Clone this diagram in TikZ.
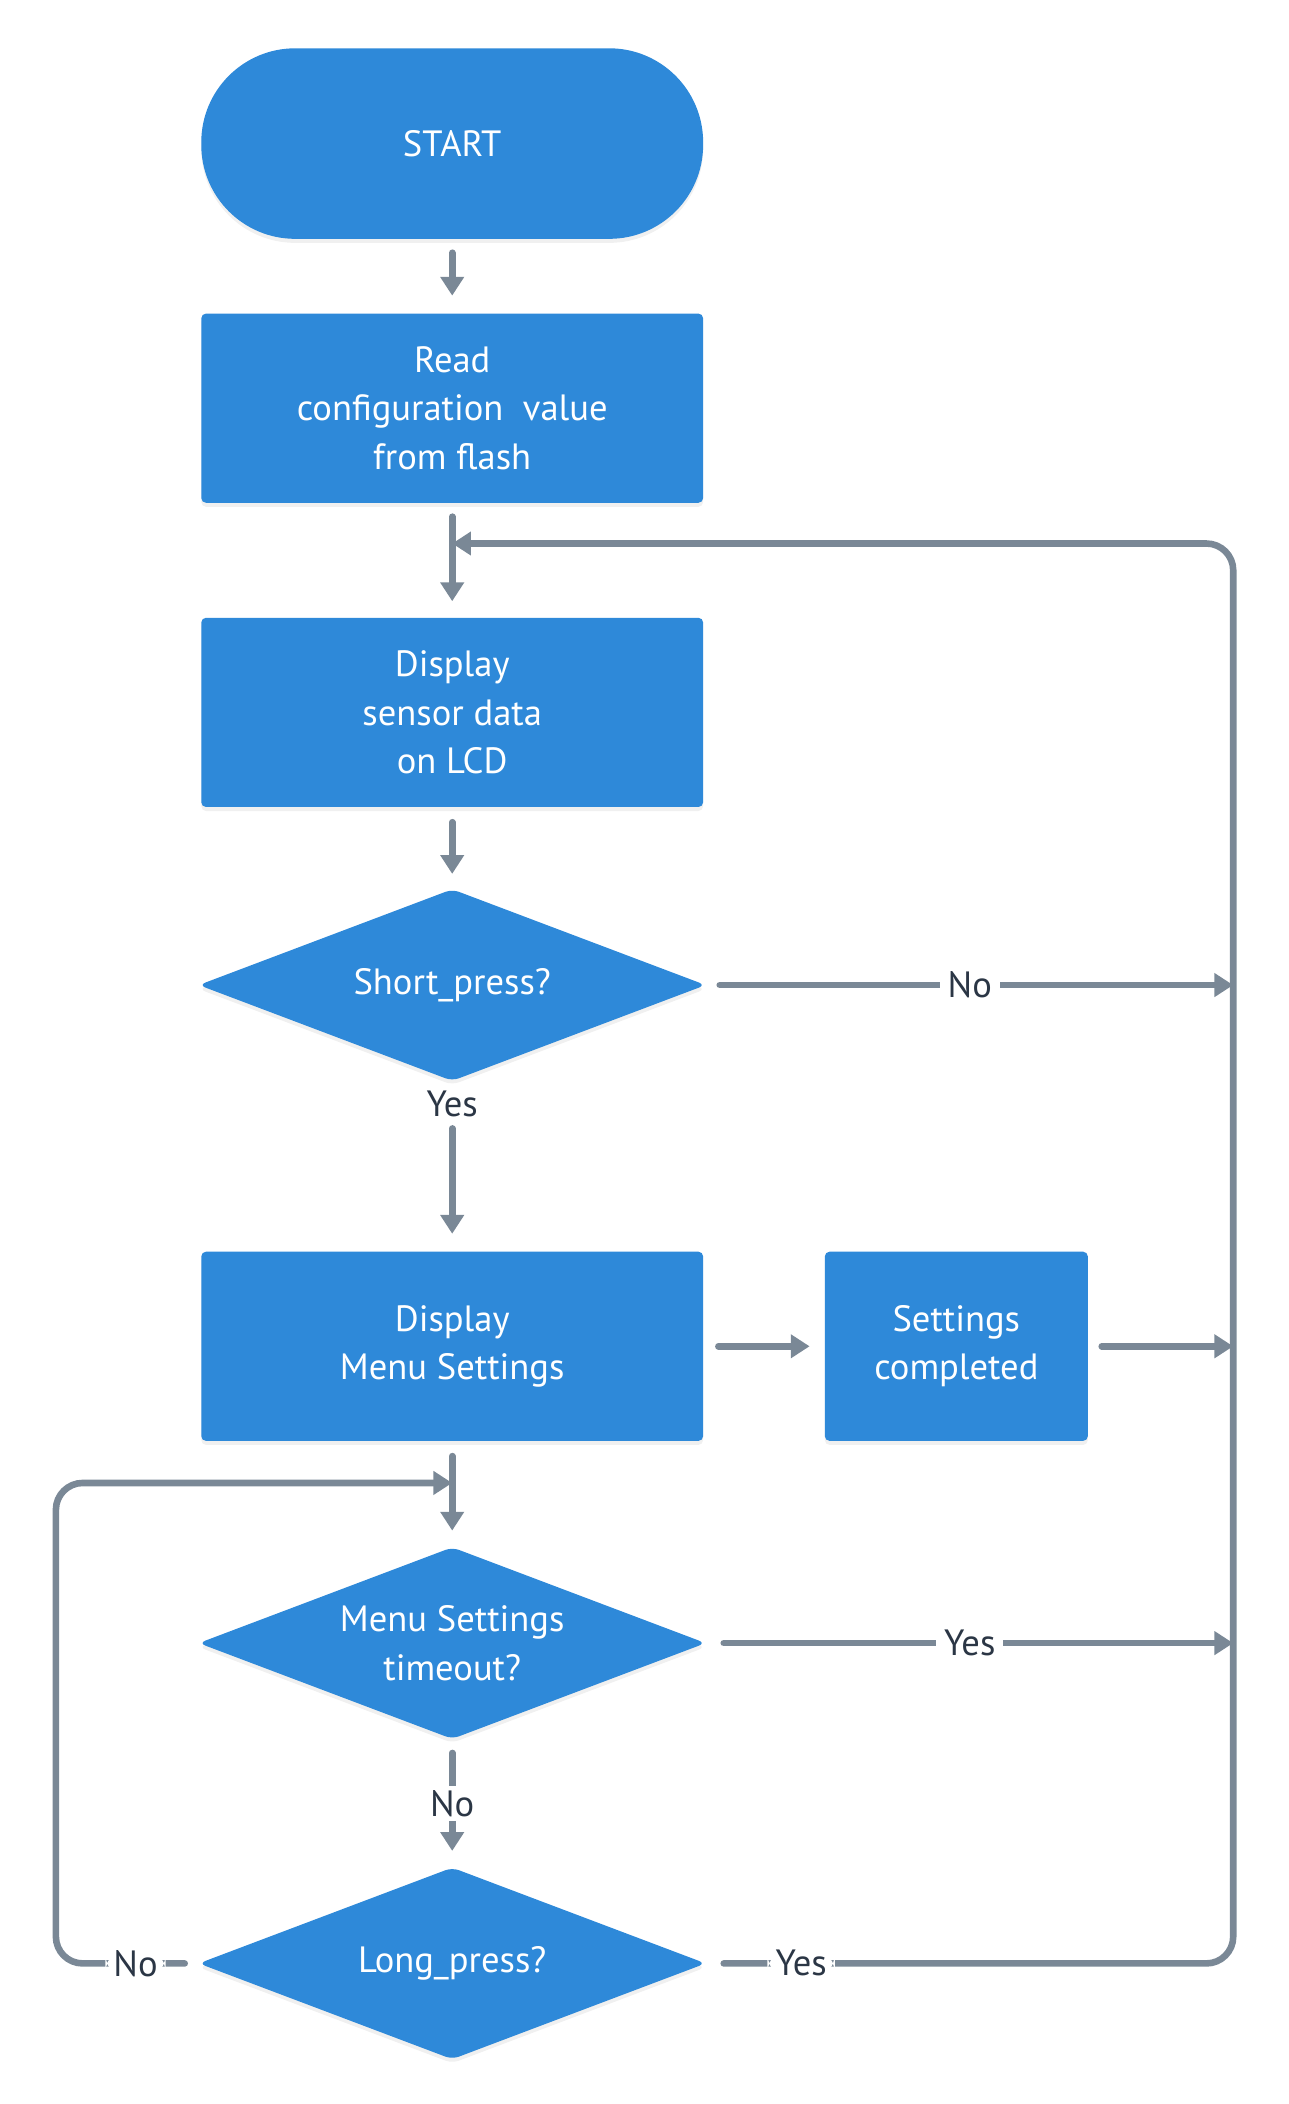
\documentclass[tikz,border=0pt]{standalone}
\usepackage{fontspec}
\setmainfont{PT Sans}
\usepackage{xcolor}
\usetikzlibrary{positioning, shapes.geometric, arrows.meta, shadows}
\definecolor{flowblue}{HTML}{2E89D9}
\definecolor{linegray}{HTML}{7A8896}
\definecolor{labeltext}{HTML}{2B3645}

\begin{document}
\begin{tikzpicture}[
        font=\fontsize{15.5}{20.5}\selectfont,
        box/.style={fill=flowblue, text=white, rounded corners=2pt, minimum width=7.48cm, minimum height=2.82cm, align=center, drop shadow={opacity=0.12, shadow xshift=0pt, shadow yshift=-0.06cm}},
        term/.style={box, rounded corners=1.4cm, minimum height=2.84cm},
        decision/.style={diamond, aspect=2.64, fill=flowblue, text=white, rounded corners=3pt, minimum width=7.56cm, minimum height=2.86cm, inner sep=0pt, align=center, drop shadow={opacity=0.12, shadow xshift=0pt, shadow yshift=-0.06cm}},
        arrow/.style={-{Triangle[width=0.34cm, length=0.28cm]}, draw=linegray, line width=2.8pt, line cap=round},
        lbl/.style={fill=white, text=labeltext, inner xsep=0.12cm, inner ysep=0.06cm}
    ]
        \useasboundingbox (0,0) rectangle (19.2,-31.36);

        % Nodes
        \node[term] (start) at (6.74,-2.14) {START};
        \node[box, below=1.1cm of start] (read) {Read\\configuration\ \ value\\from flash};
        \node[box, below=1.7cm of read] (display) {Display\\sensor data\\on LCD};
        \node[decision, below=1.21cm of display] (short) {Short\_press?};
        \node[box, below=2.53cm of short] (menu) {Display\\Menu Settings};
        \node[box, minimum width=3.92cm, right=1.8cm of menu] (done) {Settings\\completed};
        \node[decision, below=1.57cm of menu] (timeout) {Menu Settings\\timeout?};
        \node[decision, below=1.9cm of timeout] (long) {Long\_press?};

        % Junctions and rails
        \coordinate[below=0.6cm of read] (jtop);
        \coordinate[below=0.62cm of menu] (jbot);
        \coordinate[right=2.16cm of done] (rail);
        \coordinate[left=2.12cm of long] (lrail);

        % Paths
        \draw[arrow, shorten <=0.2cm, shorten >=0.26cm] (start) -- (read);
        \draw[arrow, shorten <=0.2cm, shorten >=0.24cm] (read) -- (display);
        \draw[arrow, shorten <=0.22cm, shorten >=0.22cm] (display) -- (short);
        \draw[arrow, shorten <=0.7cm, shorten >=0.26cm] (short) -- node[lbl, pos=0.13] {Yes} (menu);
        \draw[arrow, shorten <=0.2cm] (short) -- node[lbl] {No} (short -| rail);
        \draw[arrow, shorten <=0.22cm, shorten >=0.22cm] (menu) -- (done);
        \draw[arrow, shorten <=0.2cm] (done) -- (done -| rail);
        \draw[arrow, shorten <=0.22cm, shorten >=0.24cm] (menu) -- (timeout);
        \draw[arrow, shorten <=0.26cm] (timeout) -- node[lbl] {Yes} (timeout -| rail);
        \draw[arrow, shorten <=0.2cm, shorten >=0.24cm] (timeout) -- node[lbl] {No} (long);

        % Loops back to the main flow
        \draw[arrow, rounded corners=0.4cm, shorten <=0.26cm] (long.east) -- node[lbl, pos=0.18] {Yes} (long.east -| rail) -- (jtop -| rail) -- (jtop);
        \draw[arrow, rounded corners=0.4cm, shorten <=0.2cm] (long.west) -- node[lbl, pos=0.44] {No} (long.west -| lrail) -- (jbot -| lrail) -- (jbot);

    \end{tikzpicture}
\end{document}
